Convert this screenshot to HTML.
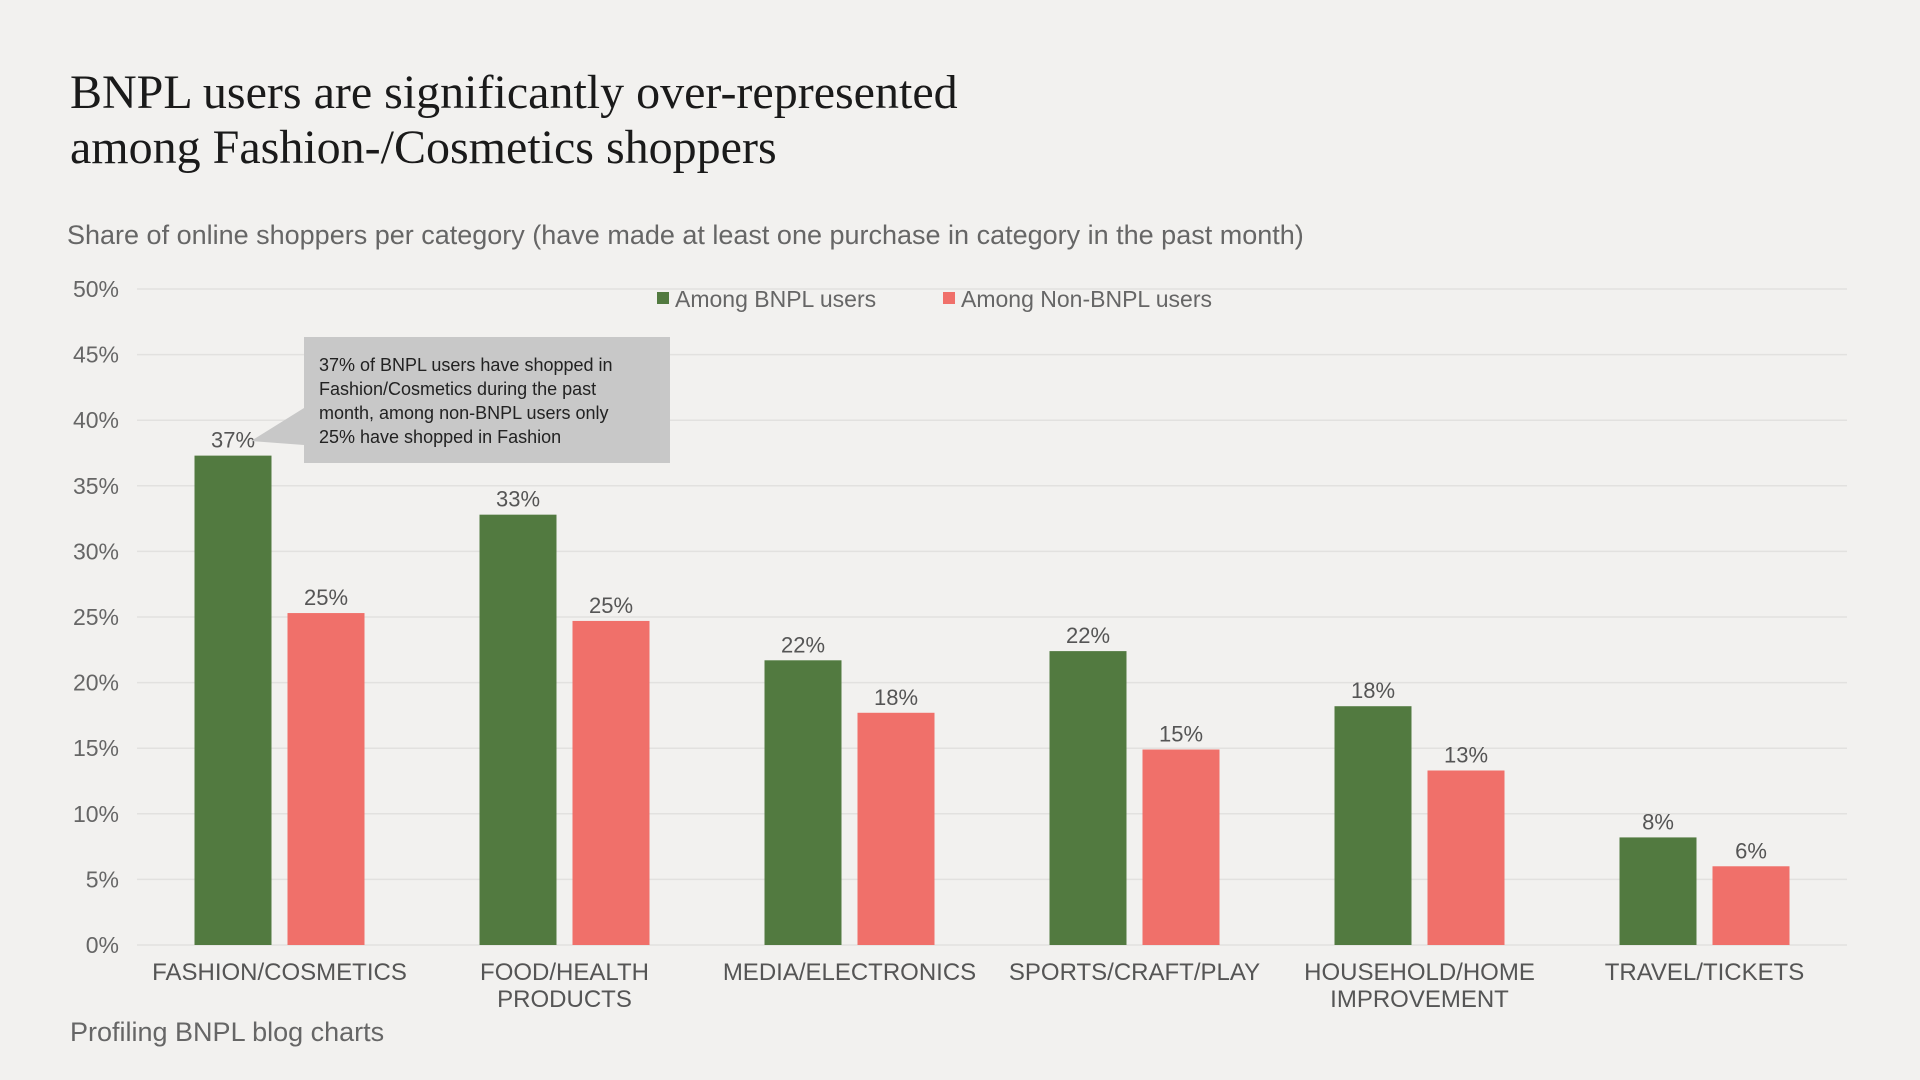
<!DOCTYPE html>
<html><head><meta charset="utf-8"><style>
body{margin:0;background:#f2f1ef;}
svg{display:block;}
text{font-family:"Liberation Sans",sans-serif;}
</style></head><body>
<svg id="chart" width="1920" height="1080" viewBox="0 0 1920 1080">
<rect width="1920" height="1080" fill="#f2f1ef"/>
<text x="70" y="108" font-family="Liberation Serif" style="font-family:'Liberation Serif',serif" font-size="48" fill="#1a1a1a">BNPL users are significantly over-represented</text>
<text x="70" y="163" style="font-family:'Liberation Serif',serif" font-size="48" fill="#1a1a1a">among Fashion-/Cosmetics shoppers</text>
<text x="67" y="244" font-size="27" fill="#666">Share of online shoppers per category (have made at least one purchase in category in the past month)</text>
<g id="grid"></g><g id="bars"></g>
<g>
<rect x="657" y="292" width="12" height="12" fill="#527a40"/>
<text x="675" y="307" font-size="23" fill="#666">Among BNPL users</text>
<rect x="943" y="292" width="12" height="12" fill="#f0706a"/>
<text x="961" y="307" font-size="23" fill="#666">Among Non-BNPL users</text>
</g>
<g>
<polygon points="304,408 251,441 304,445" fill="#c8c8c8"/>
<rect x="304" y="337" width="366" height="126" fill="#c8c8c8"/>
<text font-size="18" fill="#222">
<tspan x="319" y="371">37% of BNPL users have shopped in</tspan>
<tspan x="319" y="395">Fashion/Cosmetics during the past</tspan>
<tspan x="319" y="419">month, among non-BNPL users only</tspan>
<tspan x="319" y="443">25% have shopped in Fashion</tspan>
</text>
</g>
<text x="70" y="1041" font-size="27" fill="#666">Profiling BNPL blog charts</text>
</svg>
<script>
const categories=[["FASHION/COSMETICS"],["FOOD/HEALTH","PRODUCTS"],["MEDIA/ELECTRONICS"],["SPORTS/CRAFT/PLAY"],["HOUSEHOLD/HOME","IMPROVEMENT"],["TRAVEL/TICKETS"]];
const bnplValues=[37.3,32.8,21.7,22.4,18.2,8.2];
const nonBnplValues=[25.3,24.7,17.7,14.9,13.3,6.0];
const bnplLabels=["37%","33%","22%","22%","18%","8%"];
const nonBnplLabels=["25%","25%","18%","15%","13%","6%"];
const yTicks=[0,5,10,15,20,25,30,35,40,45,50];
const ns="http://www.w3.org/2000/svg";
const x0=137,x1=1847,yBase=945,yTop=289,yMax=50;
const y=v=>yBase-(v/yMax)*(yBase-yTop);
const band=(x1-x0)/categories.length;
const cx=i=>x0+band*(i+0.5);
function mk(tag,attrs,parent){const e=document.createElementNS(ns,tag);for(const k in attrs)e.setAttribute(k,attrs[k]);parent.appendChild(e);return e;}
const grid=document.getElementById('grid'),bars=document.getElementById('bars');
yTicks.forEach(t=>{
 const l=mk('line',{x1:x0,x2:x1,y1:y(t),y2:y(t),stroke:'#e2e1df','stroke-width':1.5},grid);
 
 
 const tx=mk('text',{x:119,y:y(t)+8,'text-anchor':'end','font-size':23,fill:'#666'},grid);
 tx.textContent=t+'%';
 
 
});
const bw=77,gap=16;
categories.forEach((c,i)=>{
 const c0=cx(i);
 [[bnplValues,bnplLabels,'#527a40',c0-gap/2-bw,'bnpl'],[nonBnplValues,nonBnplLabels,'#f0706a',c0+gap/2,'non-bnpl']].forEach(([vals,labs,col,bx,key])=>{
  const r=mk('rect',{x:bx,y:y(vals[i]),width:bw,height:yBase-y(vals[i]),fill:col},bars);
  
  
  const t=mk('text',{x:bx+bw/2,y:y(vals[i])-8,'text-anchor':'middle','font-size':22,fill:'#555'},bars);
  t.textContent=labs[i];
  
  
 });
 c.forEach((line,j)=>{
  const t=mk('text',{x:c0,y:980+j*27,'text-anchor':'middle','font-size':24,fill:'#555'},bars);
  t.textContent=line;
  
  
 });
});
</script>
</body></html>
